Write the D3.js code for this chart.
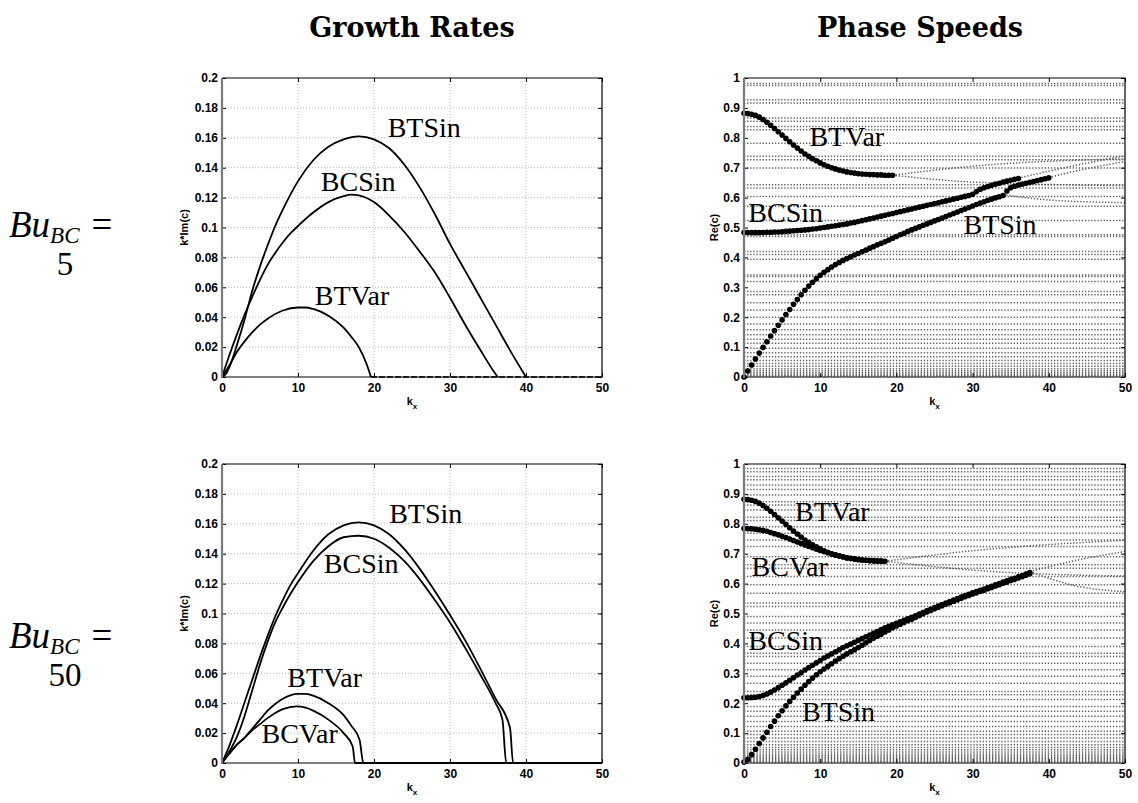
<!DOCTYPE html>
<html>
<head>
<meta charset="utf-8">
<script src="https://cdn.jsdelivr.net/npm/d3@7"></script>
<style>
body { margin: 0; background: #fff; }
svg { display: block; }
</style>
</head>
<body>
<svg id="fig" width="1138" height="803"></svg>
<script>
var svg = d3.select("#fig");

// ---- growth rates, pairs of [k_x, k*Im(c)] ----
var btSinGrowth5 = [[0,0],[0.5,0.002],[1,0.007],[2,0.022],[3,0.039],[4,0.058],[5,0.074],[6,0.088],[7,0.101],[8,0.112],[9,0.122],[10,0.131],[12,0.145],[14,0.154],[16,0.159],[18,0.161],[20,0.159],[22,0.153],[24,0.142],[26,0.127],[28,0.109],[30,0.089],[32,0.071],[34,0.053],[36,0.035],[38,0.017],[40,0]];
var bcSinGrowth5 = [[0,0],[1,0.015],[2,0.029],[3,0.042],[4,0.054],[5,0.065],[6,0.075],[7,0.083],[8,0.09],[9,0.096],[10,0.101],[12,0.11],[14,0.117],[16,0.121],[17,0.122],[18,0.1215],[20,0.117],[22,0.108],[24,0.097],[26,0.084],[28,0.07],[30,0.053],[32,0.035],[34,0.018],[36,0.002],[36.3,0]];
var btVarGrowth5 = [[0,0],[1,0.008],[2,0.017],[3,0.024],[4,0.03],[5,0.035],[6,0.039],[8,0.0445],[10,0.0465],[11,0.0465],[12,0.0455],[14,0.041],[16,0.033],[17,0.027],[18,0.02],[19,0.009],[19.6,0]];
var zeroTail5 = [[19.6,0],[50,0]];

var btSinGrowth50 = [[0,0],[1,0.012],[2,0.026],[3,0.041],[4,0.056],[5,0.071],[6,0.085],[7,0.098],[8,0.109],[9,0.119],[10,0.127],[12,0.142],[14,0.153],[16,0.159],[18,0.161],[20,0.159],[22,0.153],[24,0.143],[26,0.13],[28,0.115],[30,0.099],[32,0.082],[34,0.063],[36,0.043],[37.9,0.0234],[38.3,0],[50,0]];
var bcSinGrowth50 = [[0,0],[1,0.008],[2,0.018],[3,0.032],[4,0.049],[5,0.066],[6,0.081],[7,0.094],[8,0.104],[9,0.113],[10,0.121],[12,0.135],[14,0.145],[16,0.151],[18,0.152],[20,0.15],[22,0.144],[24,0.135],[26,0.123],[28,0.109],[30,0.094],[32,0.077],[34,0.059],[36,0.04],[36.9,0.029],[37.4,0],[50,0]];
var btVarGrowth50 = [[0,0],[1,0.0065],[2,0.0125],[3,0.017],[4,0.023],[5,0.029],[6,0.035],[7,0.0395],[8,0.043],[10,0.0462],[11,0.0462],[12,0.045],[14,0.04],[16,0.032],[17,0.025],[18.1,0.0156],[18.6,0],[50,0]];
var bcVarGrowth50 = [[0,0],[1,0.0065],[2,0.0125],[3,0.017],[4,0.022],[5,0.026],[6,0.03],[7,0.0335],[8,0.036],[9.8,0.0379],[11,0.037],[12,0.035],[14,0.029],[16,0.02],[17.2,0.011],[17.5,0],[50,0]];

// ---- phase speeds Re(c), sampled every 0.5 in k_x from 0 ----
var btVarPhase5 = [0.882,0.881,0.879,0.875,0.869,0.861,0.852,0.842,0.831,0.820,0.809,0.798,0.787,0.776,0.766,0.756,0.746,0.738,0.730,0.723,0.716,0.710,0.705,0.700,0.696,0.692,0.689,0.686,0.684,0.682,0.680,0.679,0.678,0.677,0.677,0.676,0.676,0.675,0.675,0.675];
var bcSinPhase5 = [0.483,0.483,0.483,0.483,0.483,0.483,0.484,0.484,0.485,0.485,0.486,0.487,0.488,0.489,0.490,0.491,0.492,0.493,0.495,0.496,0.498,0.500,0.502,0.504,0.506,0.508,0.510,0.512,0.515,0.517,0.520,0.523,0.526,0.529,0.532,0.535,0.538,0.541,0.544,0.547,0.550,0.553,0.556,0.559,0.562,0.565,0.568,0.571,0.574,0.577,0.580,0.583,0.586,0.589,0.592,0.595,0.598,0.601,0.604,0.607,0.611,0.620,0.628,0.633,0.637,0.641,0.645,0.648,0.652,0.655,0.658,0.661,0.664];
var btSinPhase5 = [0.000,0.020,0.040,0.060,0.080,0.099,0.118,0.137,0.155,0.173,0.191,0.209,0.226,0.243,0.259,0.275,0.290,0.304,0.317,0.329,0.340,0.350,0.359,0.368,0.376,0.383,0.390,0.396,0.402,0.408,0.413,0.419,0.425,0.431,0.436,0.442,0.447,0.452,0.458,0.464,0.470,0.476,0.481,0.487,0.492,0.497,0.502,0.507,0.512,0.517,0.522,0.527,0.532,0.537,0.542,0.547,0.552,0.557,0.562,0.567,0.572,0.577,0.582,0.586,0.591,0.595,0.599,0.603,0.607,0.622,0.633,0.638,0.642,0.645,0.648,0.651,0.654,0.657,0.660,0.663,0.666];

var btVarPhase50 = [0.882,0.881,0.879,0.875,0.869,0.861,0.852,0.842,0.831,0.820,0.809,0.798,0.787,0.776,0.766,0.756,0.746,0.738,0.730,0.723,0.716,0.710,0.705,0.700,0.696,0.692,0.689,0.686,0.684,0.682,0.680,0.679,0.678,0.677,0.677,0.676,0.676,0.675];
var bcVarPhase50 = [0.784,0.784,0.783,0.782,0.780,0.778,0.775,0.771,0.767,0.763,0.758,0.754,0.749,0.744,0.739,0.734,0.729,0.724,0.720,0.715,0.711,0.707,0.703,0.699,0.696,0.693,0.690,0.687,0.685,0.683,0.681,0.679,0.678,0.677,0.676,0.675,0.675];
var bcSinPhase50 = [0.218,0.218,0.219,0.220,0.222,0.226,0.231,0.237,0.244,0.252,0.260,0.268,0.277,0.285,0.294,0.302,0.311,0.319,0.327,0.335,0.343,0.351,0.358,0.365,0.372,0.379,0.386,0.392,0.398,0.404,0.410,0.416,0.422,0.428,0.434,0.440,0.446,0.452,0.457,0.462,0.467,0.472,0.477,0.482,0.487,0.492,0.498,0.503,0.509,0.514,0.520,0.525,0.530,0.535,0.540,0.545,0.550,0.555,0.560,0.564,0.569,0.573,0.578,0.582,0.587,0.591,0.596,0.600,0.605,0.609,0.614,0.618,0.623,0.627,0.632,0.637];
var btSinPhase50 = [0.003,0.012,0.028,0.046,0.065,0.084,0.103,0.122,0.140,0.158,0.175,0.191,0.206,0.220,0.234,0.247,0.260,0.272,0.284,0.295,0.305,0.314,0.323,0.332,0.341,0.349,0.357,0.365,0.372,0.379,0.386,0.394,0.402,0.410,0.417,0.424,0.431,0.438,0.445,0.452,0.458,0.464,0.470,0.476,0.481,0.487,0.493,0.499,0.505,0.510,0.516,0.521,0.526,0.531,0.536,0.541,0.546,0.551,0.556,0.560,0.565,0.569,0.574,0.578,0.583,0.587,0.592,0.596,0.601,0.605,0.610,0.614,0.619,0.623,0.628,0.633];

// other (neutral) eigenvalues drawn as faint dotted lines
var spectrum5 = [0.982,0.975,0.927,0.916,0.866,0.855,0.838,0.827,0.782,0.738,0.727,0.699,0.643,0.632,0.604,0.571,0.523,0.476,0.470,0.420,0.410,0.394,0.341,0.336,0.319,0.286,0.275,0.248,0.224,0.200,0.177,0.158,0.141,0.126,0.113,0.096,0.081,0.068,0.055,0.045,0.036,0.028,0.021,0.015,0.010,0.006,0.003];
var branches5 = [
  [[19.5,0.675],[30,0.705],[50,0.73]],
  [[19.5,0.675],[30,0.652],[50,0.64]],
  [[36,0.665],[43,0.705],[50,0.74]],
  [[40,0.667],[45,0.697],[50,0.72]],
  [[34,0.61],[40,0.592],[50,0.583]]
];
var spectrum50 = [0.985,0.974,0.958,0.947,0.930,0.915,0.896,0.874,0.863,0.846,0.822,0.811,0.790,0.768,0.746,0.724,0.690,0.663,0.651,0.624,0.596,0.568,0.535,0.523,0.490,0.468,0.445,0.418,0.390,0.367,0.356,0.334,0.312,0.290,0.267,0.239,0.228,0.212,0.189,0.173,0.156,0.139,0.122,0.106,0.095,0.084,0.072,0.061,0.052,0.044,0.037,0.030,0.024,0.019,0.014,0.010,0.006,0.003];
var branches50 = [
  [[18.5,0.675],[30,0.71],[50,0.745]],
  [[18.5,0.675],[30,0.645],[50,0.625]],
  [[37.5,0.64],[44,0.68],[50,0.707]],
  [[37.5,0.64],[44,0.59],[50,0.573]]
];

var growthTicks = [0,0.02,0.04,0.06,0.08,0.1,0.12,0.14,0.16,0.18,0.2];
var phaseTicks = [0,0.1,0.2,0.3,0.4,0.5,0.6,0.7,0.8,0.9,1];
var kTicks = [0,10,20,30,40,50];

var tickFont = "Liberation Sans, Arial, sans-serif";
var serif = "Liberation Serif, Times New Roman, serif";

function panel(box, yMax, yTicks, yLabel, grid) {
  var x = d3.scaleLinear().domain([0, 50]).range([box.x0, box.x1]);
  var y = d3.scaleLinear().domain([0, yMax]).range([box.y1, box.y0]);
  var g = svg.append("g");
  var under = g.append("g"), marks = g.append("g"), axes = g.append("g");

  if (grid) {
    under.selectAll(".gx").data(kTicks.slice(1, -1)).enter().append("line")
      .attr("x1", x).attr("x2", x).attr("y1", box.y0).attr("y2", box.y1)
      .attr("stroke", "#b8b8b8").attr("stroke-width", 1).attr("stroke-dasharray", "1,2");
    under.selectAll(".gy").data(yTicks.slice(1, -1)).enter().append("line")
      .attr("y1", y).attr("y2", y).attr("x1", box.x0).attr("x2", box.x1)
      .attr("stroke", "#b8b8b8").attr("stroke-width", 1).attr("stroke-dasharray", "1,2");
  }

  var fmt = function(d) { return d === 0 ? "0" : String(+d.toFixed(2)); };
  function style(s) {
    s.select(".domain").remove();
    s.attr("font-family", tickFont).attr("font-size", 12).attr("font-weight", "bold");
    s.selectAll("line").attr("stroke", "#000");
    s.selectAll("text").attr("fill", "#000");
  }
  axes.append("g").attr("transform", "translate(0," + box.y1 + ")")
    .call(d3.axisBottom(x).tickValues(kTicks).tickSize(-4).tickPadding(6)).call(style);
  axes.append("g").attr("transform", "translate(0," + box.y0 + ")")
    .call(d3.axisTop(x).tickValues(kTicks).tickSize(-4).tickFormat("")).call(style);
  axes.append("g").attr("transform", "translate(" + box.x0 + ",0)")
    .call(d3.axisLeft(y).tickValues(yTicks).tickSize(-4).tickPadding(4).tickFormat(fmt)).call(style);
  axes.append("g").attr("transform", "translate(" + box.x1 + ",0)")
    .call(d3.axisRight(y).tickValues(yTicks).tickSize(-4).tickFormat("")).call(style);

  // box
  axes.append("path").attr("d", "M" + box.x0 + "," + box.y0 + "H" + box.x1 + "V" + box.y1 + "H" + box.x0)
    .attr("fill", "none").attr("stroke", "#000").attr("stroke-width", 1.2);
  axes.append("line").attr("x1", box.x0).attr("x2", box.x0).attr("y1", box.y0).attr("y2", box.y1 + 1)
    .attr("stroke", "#7a7a7a").attr("stroke-width", 2.2);

  // axis labels
  var cy = (box.y0 + box.y1) / 2, cx = (box.x0 + box.x1) / 2;
  axes.append("text").attr("transform", "translate(" + (box.x0 - yLabel.off) + "," + cy + ") rotate(-90)")
    .attr("text-anchor", "middle").attr("font-family", tickFont).attr("font-weight", "bold")
    .attr("font-size", 11).text(yLabel.text);
  var kl = axes.append("text").attr("x", cx).attr("y", box.y1 + 28).attr("text-anchor", "middle")
    .attr("font-family", tickFont).attr("font-weight", "bold").attr("font-size", 11);
  kl.append("tspan").text("k");
  kl.append("tspan").attr("font-size", 8).attr("dy", 4).text("x");

  return { marks: marks, under: under, x: x, y: y };
}

function growthLines(p, series, dashed) {
  var line = d3.line().x(function(d) { return p.x(d[0]); }).y(function(d) { return p.y(d[1]); })
    .curve(d3.curveMonotoneX);
  p.marks.selectAll(".c").data(series).enter().append("path")
    .attr("d", line).attr("fill", "none").attr("stroke", "#000").attr("stroke-width", 1.8)
    .attr("stroke-linejoin", "round");
  if (dashed) {
    p.marks.append("path").datum(dashed).attr("d", line).attr("fill", "none")
      .attr("stroke", "#000").attr("stroke-width", 1.6).attr("stroke-dasharray", "6,2");
  }
}

function spectrumLines(p, levels, branches) {
  var line = d3.line().x(function(d) { return p.x(d[0]); }).y(function(d) { return p.y(d[1]); })
    .curve(d3.curveMonotoneX);
  var rows = levels.map(function(c) { return [[0, c], [50, c]]; }).concat(branches);
  p.under.selectAll(".s").data(rows).enter().append("path")
    .attr("d", line).attr("fill", "none").attr("stroke", "#5e5e5e")
    .attr("stroke-width", 1.5).attr("stroke-dasharray", "1.3,1.8");
}

function phaseDots(p, series) {
  series.forEach(function(vals) {
    p.marks.append("g").selectAll("circle").data(vals).enter().append("circle")
      .attr("cx", function(d, i) { return p.x(i * 0.5); })
      .attr("cy", function(d) { return p.y(d); })
      .attr("r", 2.8).attr("fill", "#000");
  });
}

function labels(p, list) {
  p.marks.selectAll(".lab").data(list).enter().append("text")
    .attr("x", function(d) { return p.x(d[1]); }).attr("y", function(d) { return p.y(d[2]); })
    .attr("font-family", serif).attr("font-size", 28).attr("fill", "#000")
    .text(function(d) { return d[0]; });
}

var imLabel = { text: "k*Im(c)", off: 34 };
var reLabel = { text: "Re(c)", off: 26 };

var tl = panel({ x0: 222, x1: 602, y0: 78, y1: 377 }, 0.2, growthTicks, imLabel, true);
growthLines(tl, [btSinGrowth5, bcSinGrowth5, btVarGrowth5], zeroTail5);
labels(tl, [["BTSin", 21.8, 0.1604], ["BCSin", 13.0, 0.1245], ["BTVar", 12.2, 0.048]]);

var tr = panel({ x0: 744, x1: 1125, y0: 78, y1: 377 }, 1, phaseTicks, reLabel, false);
spectrumLines(tr, spectrum5, branches5);
phaseDots(tr, [btVarPhase5, bcSinPhase5, btSinPhase5]);
labels(tr, [["BTVar", 8.6, 0.773], ["BCSin", 0.57, 0.52], ["BTSin", 28.8, 0.478]]);

var bl = panel({ x0: 222, x1: 602, y0: 464, y1: 763 }, 0.2, growthTicks, imLabel, true);
growthLines(bl, [btSinGrowth50, bcSinGrowth50, btVarGrowth50, bcVarGrowth50], null);
labels(bl, [["BTSin", 22.0, 0.1608], ["BCSin", 13.4, 0.127], ["BTVar", 8.6, 0.0508], ["BCVar", 5.2, 0.0134]]);

var br = panel({ x0: 744, x1: 1125, y0: 464, y1: 763 }, 1, phaseTicks, reLabel, false);
spectrumLines(br, spectrum50, branches50);
phaseDots(br, [btVarPhase50, bcVarPhase50, bcSinPhase50, btSinPhase50]);
labels(br, [["BTVar", 6.7, 0.81], ["BCVar", 1.0, 0.626], ["BCSin", 0.57, 0.379], ["BTSin", 7.6, 0.141]]);

// column titles
svg.selectAll(".title").data([["Growth Rates", 412], ["Phase Speeds", 920]]).enter().append("text")
  .attr("x", function(d) { return d[1]; }).attr("y", 37).attr("text-anchor", "middle")
  .attr("font-family", "DejaVu Serif, serif").attr("font-weight", "bold").attr("font-size", 27)
  .text(function(d) { return d[0]; });

// row labels
function rowLabel(base, num) {
  var t = svg.append("text").attr("x", 9).attr("y", base).attr("font-family", serif).attr("font-size", 37);
  t.append("tspan").attr("font-style", "italic").text("Bu");
  t.append("tspan").attr("font-style", "italic").attr("font-size", 23).attr("dy", 6).text("BC");
  t.append("tspan").attr("dy", -6).attr("dx", 12).text("=");
  svg.append("text").attr("x", 65).attr("y", base + 38).attr("text-anchor", "middle")
    .attr("font-family", serif).attr("font-size", 33).text(num);
}
rowLabel(237, "5");
rowLabel(648, "50");
</script>
</body>
</html>
